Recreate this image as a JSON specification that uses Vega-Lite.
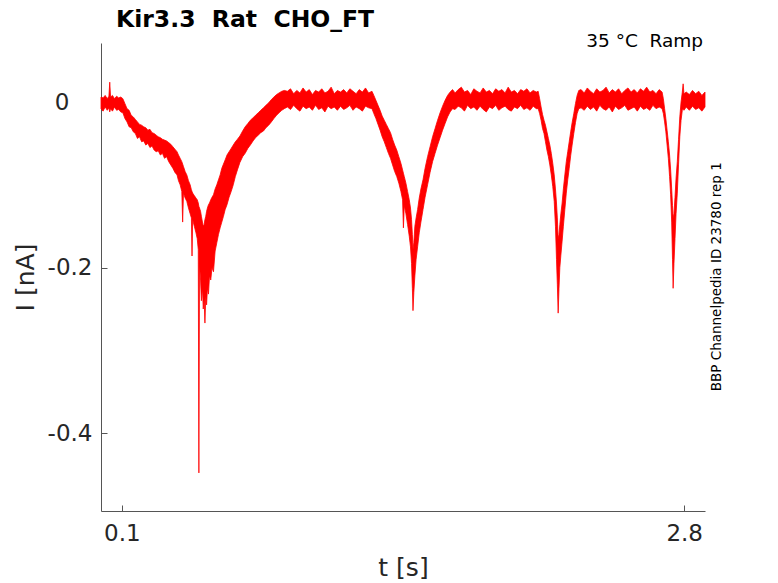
{
  "$schema": "https://vega.github.io/schema/vega-lite/v6.json",
  "width": 604,
  "height": 468,
  "autosize": "none",
  "padding": {"left": 101, "top": 43, "right": 73, "bottom": 72},
  "background": "white",
  "config": {
    "view": {"stroke": null},
    "font": "DejaVu Sans",
    "axis": {
      "grid": false,
      "domainColor": "#555555",
      "tickColor": "#555555",
      "tickSize": -6,
      "labelColor": "#262626",
      "titleColor": "#262626",
      "labelFontSize": 23,
      "titleFontSize": 25,
      "titleFontWeight": "normal",
      "labelFont": "DejaVu Sans",
      "titleFont": "DejaVu Sans"
    }
  },
  "title": {
    "text": "Kir3.3\u00a0\u00a0Rat\u00a0\u00a0CHO_FT",
    "anchor": "start",
    "frame": "group",
    "dx": 15,
    "offset": 0,
    "fontSize": 23.5,
    "fontWeight": "bold",
    "color": "black",
    "font": "DejaVu Sans"
  },
  "datasets": {
    "band": [
      {"t": 0.000, "lo": -0.008, "hi": 0.006},
      {"t": 0.010, "lo": -0.011, "hi": 0.005},
      {"t": 0.020, "lo": -0.006, "hi": 0.008},
      {"t": 0.030, "lo": -0.010, "hi": 0.004},
      {"t": 0.038, "lo": -0.007, "hi": 0.007},
      {"t": 0.042, "lo": -0.012, "hi": 0.024},
      {"t": 0.046, "lo": -0.008, "hi": 0.006},
      {"t": 0.055, "lo": -0.011, "hi": 0.008},
      {"t": 0.065, "lo": -0.006, "hi": 0.004},
      {"t": 0.075, "lo": -0.010, "hi": 0.007},
      {"t": 0.085, "lo": -0.009, "hi": 0.005},
      {"t": 0.095, "lo": -0.012, "hi": 0.006},
      {"t": 0.105, "lo": -0.013, "hi": 0.004},
      {"t": 0.115, "lo": -0.020, "hi": -0.002},
      {"t": 0.125, "lo": -0.024, "hi": -0.008},
      {"t": 0.135, "lo": -0.030, "hi": -0.010},
      {"t": 0.145, "lo": -0.031, "hi": -0.016},
      {"t": 0.155, "lo": -0.036, "hi": -0.018},
      {"t": 0.165, "lo": -0.038, "hi": -0.021},
      {"t": 0.175, "lo": -0.044, "hi": -0.024},
      {"t": 0.185, "lo": -0.042, "hi": -0.027},
      {"t": 0.195, "lo": -0.048, "hi": -0.028},
      {"t": 0.205, "lo": -0.047, "hi": -0.030},
      {"t": 0.215, "lo": -0.052, "hi": -0.031},
      {"t": 0.225, "lo": -0.050, "hi": -0.034},
      {"t": 0.235, "lo": -0.055, "hi": -0.033},
      {"t": 0.245, "lo": -0.053, "hi": -0.037},
      {"t": 0.255, "lo": -0.058, "hi": -0.038},
      {"t": 0.265, "lo": -0.060, "hi": -0.040},
      {"t": 0.275, "lo": -0.059, "hi": -0.042},
      {"t": 0.285, "lo": -0.064, "hi": -0.043},
      {"t": 0.295, "lo": -0.062, "hi": -0.045},
      {"t": 0.305, "lo": -0.068, "hi": -0.046},
      {"t": 0.315, "lo": -0.066, "hi": -0.047},
      {"t": 0.325, "lo": -0.072, "hi": -0.049},
      {"t": 0.335, "lo": -0.076, "hi": -0.051},
      {"t": 0.345, "lo": -0.080, "hi": -0.054},
      {"t": 0.355, "lo": -0.085, "hi": -0.057},
      {"t": 0.365, "lo": -0.088, "hi": -0.060},
      {"t": 0.372, "lo": -0.095, "hi": -0.064},
      {"t": 0.380, "lo": -0.100, "hi": -0.068},
      {"t": 0.388, "lo": -0.108, "hi": -0.072},
      {"t": 0.392, "lo": -0.145, "hi": -0.075},
      {"t": 0.396, "lo": -0.110, "hi": -0.078},
      {"t": 0.404, "lo": -0.116, "hi": -0.084},
      {"t": 0.412, "lo": -0.120, "hi": -0.088},
      {"t": 0.420, "lo": -0.128, "hi": -0.095},
      {"t": 0.428, "lo": -0.135, "hi": -0.100},
      {"t": 0.434, "lo": -0.140, "hi": -0.106},
      {"t": 0.437, "lo": -0.186, "hi": -0.108},
      {"t": 0.440, "lo": -0.142, "hi": -0.110},
      {"t": 0.448, "lo": -0.150, "hi": -0.113},
      {"t": 0.456, "lo": -0.158, "hi": -0.116},
      {"t": 0.462, "lo": -0.165, "hi": -0.118},
      {"t": 0.467, "lo": -0.178, "hi": -0.122},
      {"t": 0.470, "lo": -0.448, "hi": -0.126},
      {"t": 0.473, "lo": -0.195, "hi": -0.128},
      {"t": 0.478, "lo": -0.215, "hi": -0.132},
      {"t": 0.482, "lo": -0.240, "hi": -0.138},
      {"t": 0.487, "lo": -0.225, "hi": -0.145},
      {"t": 0.491, "lo": -0.250, "hi": -0.150},
      {"t": 0.495, "lo": -0.238, "hi": -0.148},
      {"t": 0.499, "lo": -0.267, "hi": -0.142},
      {"t": 0.503, "lo": -0.235, "hi": -0.138},
      {"t": 0.507, "lo": -0.245, "hi": -0.132},
      {"t": 0.511, "lo": -0.225, "hi": -0.128},
      {"t": 0.516, "lo": -0.232, "hi": -0.124},
      {"t": 0.521, "lo": -0.210, "hi": -0.122},
      {"t": 0.527, "lo": -0.215, "hi": -0.118},
      {"t": 0.533, "lo": -0.200, "hi": -0.115},
      {"t": 0.540, "lo": -0.205, "hi": -0.112},
      {"t": 0.548, "lo": -0.180, "hi": -0.105},
      {"t": 0.556, "lo": -0.170, "hi": -0.100},
      {"t": 0.564, "lo": -0.160, "hi": -0.094},
      {"t": 0.572, "lo": -0.152, "hi": -0.088},
      {"t": 0.580, "lo": -0.145, "hi": -0.080},
      {"t": 0.588, "lo": -0.138, "hi": -0.075},
      {"t": 0.596, "lo": -0.130, "hi": -0.070},
      {"t": 0.605, "lo": -0.124, "hi": -0.064},
      {"t": 0.615, "lo": -0.115, "hi": -0.060},
      {"t": 0.625, "lo": -0.108, "hi": -0.056},
      {"t": 0.635, "lo": -0.100, "hi": -0.052},
      {"t": 0.645, "lo": -0.090, "hi": -0.048},
      {"t": 0.655, "lo": -0.082, "hi": -0.045},
      {"t": 0.667, "lo": -0.073, "hi": -0.041},
      {"t": 0.680, "lo": -0.066, "hi": -0.035},
      {"t": 0.692, "lo": -0.062, "hi": -0.030},
      {"t": 0.705, "lo": -0.056, "hi": -0.026},
      {"t": 0.717, "lo": -0.052, "hi": -0.022},
      {"t": 0.730, "lo": -0.047, "hi": -0.019},
      {"t": 0.742, "lo": -0.043, "hi": -0.016},
      {"t": 0.755, "lo": -0.040, "hi": -0.013},
      {"t": 0.767, "lo": -0.037, "hi": -0.010},
      {"t": 0.780, "lo": -0.035, "hi": -0.007},
      {"t": 0.792, "lo": -0.031, "hi": -0.004},
      {"t": 0.805, "lo": -0.028, "hi": -0.001},
      {"t": 0.818, "lo": -0.024, "hi": 0.003},
      {"t": 0.830, "lo": -0.020, "hi": 0.006},
      {"t": 0.843, "lo": -0.016, "hi": 0.009},
      {"t": 0.855, "lo": -0.013, "hi": 0.011},
      {"t": 0.868, "lo": -0.010, "hi": 0.013},
      {"t": 0.880, "lo": -0.008, "hi": 0.014},
      {"t": 0.895, "lo": -0.006, "hi": 0.013},
      {"t": 0.910, "lo": -0.009, "hi": 0.016},
      {"t": 0.925, "lo": -0.004, "hi": 0.010},
      {"t": 0.940, "lo": -0.008, "hi": 0.014},
      {"t": 0.955, "lo": -0.011, "hi": 0.011},
      {"t": 0.970, "lo": -0.005, "hi": 0.017},
      {"t": 0.985, "lo": -0.008, "hi": 0.012},
      {"t": 1.000, "lo": -0.006, "hi": 0.015},
      {"t": 1.015, "lo": -0.010, "hi": 0.009},
      {"t": 1.030, "lo": -0.004, "hi": 0.014},
      {"t": 1.045, "lo": -0.009, "hi": 0.012},
      {"t": 1.060, "lo": -0.007, "hi": 0.016},
      {"t": 1.075, "lo": -0.012, "hi": 0.011},
      {"t": 1.090, "lo": -0.005, "hi": 0.013},
      {"t": 1.105, "lo": -0.008, "hi": 0.018},
      {"t": 1.120, "lo": -0.006, "hi": 0.010},
      {"t": 1.135, "lo": -0.010, "hi": 0.014},
      {"t": 1.150, "lo": -0.005, "hi": 0.012},
      {"t": 1.165, "lo": -0.009, "hi": 0.015},
      {"t": 1.180, "lo": -0.007, "hi": 0.011},
      {"t": 1.195, "lo": -0.004, "hi": 0.016},
      {"t": 1.210, "lo": -0.010, "hi": 0.013},
      {"t": 1.225, "lo": -0.006, "hi": 0.010},
      {"t": 1.240, "lo": -0.008, "hi": 0.015},
      {"t": 1.255, "lo": -0.011, "hi": 0.012},
      {"t": 1.270, "lo": -0.005, "hi": 0.017},
      {"t": 1.285, "lo": -0.007, "hi": 0.011},
      {"t": 1.301, "lo": -0.008, "hi": 0.013},
      {"t": 1.310, "lo": -0.014, "hi": 0.008},
      {"t": 1.320, "lo": -0.020, "hi": 0.002},
      {"t": 1.330, "lo": -0.027, "hi": -0.004},
      {"t": 1.340, "lo": -0.034, "hi": -0.010},
      {"t": 1.350, "lo": -0.042, "hi": -0.017},
      {"t": 1.360, "lo": -0.048, "hi": -0.022},
      {"t": 1.370, "lo": -0.055, "hi": -0.027},
      {"t": 1.380, "lo": -0.062, "hi": -0.032},
      {"t": 1.390, "lo": -0.068, "hi": -0.037},
      {"t": 1.400, "lo": -0.076, "hi": -0.045},
      {"t": 1.410, "lo": -0.084, "hi": -0.052},
      {"t": 1.420, "lo": -0.090, "hi": -0.058},
      {"t": 1.430, "lo": -0.098, "hi": -0.066},
      {"t": 1.440, "lo": -0.108, "hi": -0.074},
      {"t": 1.448, "lo": -0.118, "hi": -0.082},
      {"t": 1.452, "lo": -0.152, "hi": -0.086},
      {"t": 1.456, "lo": -0.125, "hi": -0.090},
      {"t": 1.464, "lo": -0.135, "hi": -0.098},
      {"t": 1.472, "lo": -0.148, "hi": -0.108},
      {"t": 1.480, "lo": -0.162, "hi": -0.118},
      {"t": 1.486, "lo": -0.175, "hi": -0.128},
      {"t": 1.491, "lo": -0.195, "hi": -0.142},
      {"t": 1.495, "lo": -0.225, "hi": -0.160},
      {"t": 1.498, "lo": -0.252, "hi": -0.178},
      {"t": 1.502, "lo": -0.230, "hi": -0.170},
      {"t": 1.507, "lo": -0.210, "hi": -0.150},
      {"t": 1.513, "lo": -0.190, "hi": -0.140},
      {"t": 1.520, "lo": -0.175, "hi": -0.130},
      {"t": 1.528, "lo": -0.158, "hi": -0.116},
      {"t": 1.536, "lo": -0.145, "hi": -0.105},
      {"t": 1.546, "lo": -0.130, "hi": -0.094},
      {"t": 1.556, "lo": -0.115, "hi": -0.080},
      {"t": 1.568, "lo": -0.100, "hi": -0.066},
      {"t": 1.580, "lo": -0.085, "hi": -0.054},
      {"t": 1.592, "lo": -0.072, "hi": -0.042},
      {"t": 1.604, "lo": -0.062, "hi": -0.032},
      {"t": 1.616, "lo": -0.052, "hi": -0.022},
      {"t": 1.628, "lo": -0.043, "hi": -0.013},
      {"t": 1.640, "lo": -0.034, "hi": -0.005},
      {"t": 1.652, "lo": -0.026, "hi": 0.002},
      {"t": 1.664, "lo": -0.018, "hi": 0.008},
      {"t": 1.676, "lo": -0.012, "hi": 0.012},
      {"t": 1.688, "lo": -0.008, "hi": 0.015},
      {"t": 1.700, "lo": -0.009, "hi": 0.011},
      {"t": 1.715, "lo": -0.005, "hi": 0.015},
      {"t": 1.730, "lo": -0.007, "hi": 0.018},
      {"t": 1.745, "lo": -0.011, "hi": 0.012},
      {"t": 1.760, "lo": -0.004, "hi": 0.014},
      {"t": 1.775, "lo": -0.008, "hi": 0.009},
      {"t": 1.790, "lo": -0.006, "hi": 0.016},
      {"t": 1.805, "lo": -0.010, "hi": 0.013},
      {"t": 1.820, "lo": -0.005, "hi": 0.011},
      {"t": 1.835, "lo": -0.009, "hi": 0.017},
      {"t": 1.850, "lo": -0.012, "hi": 0.012},
      {"t": 1.865, "lo": -0.006, "hi": 0.014},
      {"t": 1.880, "lo": -0.008, "hi": 0.010},
      {"t": 1.895, "lo": -0.004, "hi": 0.016},
      {"t": 1.910, "lo": -0.010, "hi": 0.013},
      {"t": 1.925, "lo": -0.007, "hi": 0.015},
      {"t": 1.940, "lo": -0.005, "hi": 0.011},
      {"t": 1.955, "lo": -0.009, "hi": 0.018},
      {"t": 1.970, "lo": -0.011, "hi": 0.012},
      {"t": 1.985, "lo": -0.006, "hi": 0.014},
      {"t": 2.000, "lo": -0.008, "hi": 0.010},
      {"t": 2.015, "lo": -0.004, "hi": 0.015},
      {"t": 2.030, "lo": -0.009, "hi": 0.013},
      {"t": 2.045, "lo": -0.007, "hi": 0.016},
      {"t": 2.060, "lo": -0.010, "hi": 0.011},
      {"t": 2.075, "lo": -0.005, "hi": 0.014},
      {"t": 2.090, "lo": -0.008, "hi": 0.012},
      {"t": 2.099, "lo": -0.008, "hi": 0.013},
      {"t": 2.106, "lo": -0.014, "hi": 0.004},
      {"t": 2.113, "lo": -0.022, "hi": -0.006},
      {"t": 2.120, "lo": -0.032, "hi": -0.015},
      {"t": 2.127, "lo": -0.038, "hi": -0.022},
      {"t": 2.134, "lo": -0.048, "hi": -0.028},
      {"t": 2.141, "lo": -0.058, "hi": -0.036},
      {"t": 2.148, "lo": -0.066, "hi": -0.044},
      {"t": 2.155, "lo": -0.076, "hi": -0.052},
      {"t": 2.162, "lo": -0.088, "hi": -0.062},
      {"t": 2.169, "lo": -0.102, "hi": -0.074},
      {"t": 2.176, "lo": -0.120, "hi": -0.088},
      {"t": 2.182, "lo": -0.150, "hi": -0.105},
      {"t": 2.187, "lo": -0.190, "hi": -0.122},
      {"t": 2.191, "lo": -0.220, "hi": -0.140},
      {"t": 2.195, "lo": -0.255, "hi": -0.165},
      {"t": 2.199, "lo": -0.225, "hi": -0.160},
      {"t": 2.203, "lo": -0.200, "hi": -0.148},
      {"t": 2.208, "lo": -0.185, "hi": -0.135},
      {"t": 2.214, "lo": -0.168, "hi": -0.122},
      {"t": 2.220, "lo": -0.150, "hi": -0.105},
      {"t": 2.227, "lo": -0.130, "hi": -0.088},
      {"t": 2.234, "lo": -0.110, "hi": -0.072},
      {"t": 2.241, "lo": -0.094, "hi": -0.060},
      {"t": 2.248, "lo": -0.080, "hi": -0.048},
      {"t": 2.255, "lo": -0.065, "hi": -0.036},
      {"t": 2.262, "lo": -0.052, "hi": -0.025},
      {"t": 2.270, "lo": -0.038, "hi": -0.014},
      {"t": 2.278, "lo": -0.025, "hi": -0.002},
      {"t": 2.286, "lo": -0.014, "hi": 0.008},
      {"t": 2.294, "lo": -0.008, "hi": 0.014},
      {"t": 2.305, "lo": -0.007, "hi": 0.015},
      {"t": 2.320, "lo": -0.010, "hi": 0.011},
      {"t": 2.335, "lo": -0.005, "hi": 0.017},
      {"t": 2.350, "lo": -0.009, "hi": 0.013},
      {"t": 2.365, "lo": -0.006, "hi": 0.010},
      {"t": 2.380, "lo": -0.011, "hi": 0.016},
      {"t": 2.395, "lo": -0.004, "hi": 0.012},
      {"t": 2.410, "lo": -0.008, "hi": 0.014},
      {"t": 2.425, "lo": -0.010, "hi": 0.018},
      {"t": 2.440, "lo": -0.006, "hi": 0.011},
      {"t": 2.455, "lo": -0.012, "hi": 0.015},
      {"t": 2.470, "lo": -0.005, "hi": 0.012},
      {"t": 2.485, "lo": -0.009, "hi": 0.016},
      {"t": 2.500, "lo": -0.007, "hi": 0.010},
      {"t": 2.515, "lo": -0.004, "hi": 0.014},
      {"t": 2.530, "lo": -0.010, "hi": 0.017},
      {"t": 2.545, "lo": -0.008, "hi": 0.012},
      {"t": 2.560, "lo": -0.006, "hi": 0.015},
      {"t": 2.575, "lo": -0.011, "hi": 0.011},
      {"t": 2.590, "lo": -0.005, "hi": 0.016},
      {"t": 2.605, "lo": -0.009, "hi": 0.013},
      {"t": 2.620, "lo": -0.007, "hi": 0.018},
      {"t": 2.635, "lo": -0.010, "hi": 0.012},
      {"t": 2.650, "lo": -0.004, "hi": 0.014},
      {"t": 2.665, "lo": -0.008, "hi": 0.010},
      {"t": 2.680, "lo": -0.006, "hi": 0.015},
      {"t": 2.694, "lo": -0.008, "hi": 0.012},
      {"t": 2.700, "lo": -0.014, "hi": 0.004},
      {"t": 2.706, "lo": -0.024, "hi": -0.008},
      {"t": 2.712, "lo": -0.036, "hi": -0.020},
      {"t": 2.718, "lo": -0.052, "hi": -0.034},
      {"t": 2.724, "lo": -0.068, "hi": -0.048},
      {"t": 2.730, "lo": -0.090, "hi": -0.064},
      {"t": 2.735, "lo": -0.112, "hi": -0.082},
      {"t": 2.740, "lo": -0.145, "hi": -0.105},
      {"t": 2.744, "lo": -0.190, "hi": -0.125},
      {"t": 2.747, "lo": -0.225, "hi": -0.140},
      {"t": 2.751, "lo": -0.195, "hi": -0.135},
      {"t": 2.756, "lo": -0.165, "hi": -0.115},
      {"t": 2.761, "lo": -0.135, "hi": -0.092},
      {"t": 2.767, "lo": -0.110, "hi": -0.072},
      {"t": 2.773, "lo": -0.075, "hi": -0.045},
      {"t": 2.779, "lo": -0.042, "hi": -0.018},
      {"t": 2.785, "lo": -0.022, "hi": 0.000},
      {"t": 2.791, "lo": -0.010, "hi": 0.012},
      {"t": 2.795, "lo": -0.008, "hi": 0.022},
      {"t": 2.799, "lo": -0.010, "hi": 0.010},
      {"t": 2.810, "lo": -0.006, "hi": 0.012},
      {"t": 2.825, "lo": -0.010, "hi": 0.009},
      {"t": 2.840, "lo": -0.005, "hi": 0.014},
      {"t": 2.855, "lo": -0.009, "hi": 0.010},
      {"t": 2.870, "lo": -0.007, "hi": 0.013},
      {"t": 2.885, "lo": -0.011, "hi": 0.008},
      {"t": 2.900, "lo": -0.006, "hi": 0.012}
    ],
    "notes": [
      {"label": "35 °C\u00a0\u00a0Ramp", "t": 2.891, "i": 0.0668},
      {"label": "BBP Channelpedia ID 23780 rep 1", "t": 2.958, "i": -0.211}
    ]
  },
  "layer": [
    {
      "data": {"name": "band"},
      "mark": {"type": "area", "color": "#ff0000", "stroke": "#ff0000", "strokeWidth": 0.8, "opacity": 1},
      "encoding": {
        "x": {
          "field": "t",
          "type": "quantitative",
          "scale": {"domain": [0, 2.9], "nice": false, "zero": false},
          "axis": {"values": [0.1, 2.8], "title": "t [s]", "labelPadding": 17, "titlePadding": 10}
        },
        "y": {
          "field": "lo",
          "type": "quantitative",
          "scale": {"domain": [-0.494, 0.0713], "nice": false, "zero": false},
          "axis": {
            "values": [-0.4, -0.2, 0],
            "title": "I [nA]",
            "labelExpr": "'' + datum.value",
            "labelPadding": {"condition": {"test": "datum.value === 0", "value": 38}, "value": 15},
            "titlePadding": 9
          }
        },
        "y2": {"field": "hi"}
      }
    },
    {
      "data": {"name": "notes"},
      "transform": [{"filter": "datum.t < 2.95"}],
      "mark": {"type": "text", "align": "right", "baseline": "alphabetic", "fontSize": 18.5, "color": "black", "font": "DejaVu Sans"},
      "encoding": {
        "x": {"field": "t", "type": "quantitative"},
        "y": {"field": "i", "type": "quantitative"},
        "text": {"field": "label"}
      }
    },
    {
      "data": {"name": "notes"},
      "transform": [{"filter": "datum.t > 2.95"}],
      "mark": {"type": "text", "align": "center", "baseline": "middle", "angle": 270, "fontSize": 13.5, "color": "black", "font": "DejaVu Sans"},
      "encoding": {
        "x": {"field": "t", "type": "quantitative"},
        "y": {"field": "i", "type": "quantitative"},
        "text": {"field": "label"}
      }
    }
  ]
}
